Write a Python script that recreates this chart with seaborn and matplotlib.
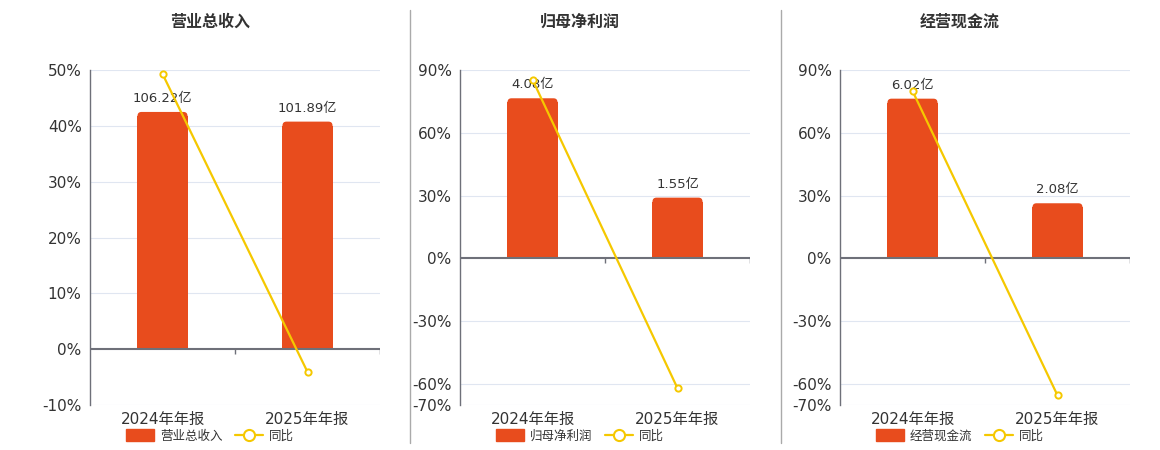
import numpy as np
import pandas as pd
import seaborn as sns
import matplotlib.pyplot as plt
from matplotlib.lines import Line2D
from matplotlib.patches import Patch, FancyBboxPatch

# data
periods = ["2024年年报", "2025年年报"]

titles = ["营业总收入", "归母净利润", "经营现金流"]
values = [
    [106.22, 101.89],   # 营业总收入 (亿)
    [4.08, 1.55],       # 归母净利润 (亿)
    [6.02, 2.08],       # 经营现金流 (亿)
]
yoy = [
    [49.3, -4.08],
    [85.4, -62.0],
    [80.0, -65.4],
]

# axis settings per panel: % range, % ticks, hidden bar-axis range
pct_lims = [(-10, 50), (-70, 90), (-70, 90)]
pct_ticks = [list(range(-10, 51, 10)), [-70, -60, -30, 0, 30, 60, 90], [-70, -60, -30, 0, 30, 60, 90]]
bar_lims = [(-25, 125), (-3.73, 4.8), (-5.52, 7.1)]

BAR = "#E84C1D"
LINE = "#F5C800"
AXC = "#6E7079"
GRID = "#E0E6F1"
TXT = "#333333"

sns.set_theme(style="white")
plt.rcParams["font.family"] = ["DejaVu Sans", "Noto Sans CJK SC"]

fig = plt.figure(figsize=(11.6, 4.5), dpi=100)
lefts = [90, 460, 840]

for i in range(3):
    left = lefts[i] / 1160
    ax = fig.add_axes([left, 45 / 450, 290 / 1160, 335 / 450])
    lo, hi = pct_lims[i]
    df = pd.DataFrame({"period": periods, "value": values[i], "yoy": yoy[i]})

    # percent axis with grid (bottom layer)
    ax.set_xlim(-0.5, 1.5)
    ax.set_ylim(lo, hi)
    ax.set_yticks(pct_ticks[i])
    ax.set_yticklabels([f"{t}%" for t in pct_ticks[i]], fontsize=11, color=TXT)
    ax.set_xticks([0, 1])
    ax.set_xticklabels(periods, fontsize=11, color=TXT)
    ax.tick_params(axis="y", length=0, pad=6)
    ax.tick_params(axis="x", length=0, pad=5)
    for t in pct_ticks[i]:
        if t != 0:
            ax.axhline(t, color=GRID, lw=0.8, zorder=0)
    for s in ["top", "right", "bottom"]:
        ax.spines[s].set_visible(False)
    ax.spines["left"].set_color(AXC)
    ax.spines["left"].set_linewidth(1)
    ax.grid(False)

    # bars on a hidden twin axis, tops rounded
    ax2 = ax.twinx()
    sns.barplot(data=df, x="period", y="value", ax=ax2, color=BAR, width=0.345,
                saturation=1, linewidth=0)
    ax2.set_xlim(-0.5, 1.5)
    b_lo, b_hi = bar_lims[i]
    ax2.set_ylim(b_lo, b_hi)
    rx = 4 / 145
    ry = 4 * (b_hi - b_lo) / 335
    for p in list(ax2.patches):
        x, y, w, h = p.get_x(), p.get_y(), p.get_width(), p.get_height()
        ax2.add_patch(FancyBboxPatch((x, y), w, h, boxstyle=f"round,pad=0,rounding_size={rx}",
                                     mutation_aspect=ry / rx, facecolor=BAR, edgecolor="none"))
        p.set_height(h - ry)
    ax2.bar_label(ax2.containers[0], labels=[f"{v:.2f}亿" for v in values[i]],
                  padding=4 + 4, fontsize=9.5, color=TXT)
    ax2.axis("off")
    ax2.patch.set_visible(False)

    # zero axis line and boundary ticks, line series on top
    ax3 = ax.twinx()
    ax3.set_ylim(lo, hi)
    ax3.set_xlim(-0.5, 1.5)
    ax3.axis("off")
    ax3.axhline(0, color=AXC, lw=1.5, zorder=1)
    tk = (hi - lo) * 5 / 335
    ax3.vlines([0.5, 1.5], -tk, 0, color=AXC, lw=1)
    sns.lineplot(x=np.arange(len(periods)), y=df["yoy"], ax=ax3, color=LINE, lw=1.6,
                 marker="o", markersize=4.5, markerfacecolor="white",
                 markeredgecolor=LINE, markeredgewidth=1.4, zorder=3)
    ax3.set_ylim(lo, hi)
    ax3.set_xlim(-0.5, 1.5)

    cx = left + 120 / 1160
    fig.text(cx, 1 - 22 / 450, titles[i], ha="center", va="center",
             fontsize=11.5, fontweight="bold", color=TXT)

    handles = [Patch(facecolor=BAR, edgecolor=BAR),
               Line2D([0], [0], color=LINE, lw=1.6, marker="o", markersize=8,
                      markerfacecolor="white", markeredgecolor=LINE, markeredgewidth=1.5)]
    fig.legend(handles, [titles[i], "同比"], loc="center",
               bbox_to_anchor=(cx, 14 / 450), ncol=2, frameon=False,
               fontsize=9, handlelength=2.2, handleheight=1.1, columnspacing=1.0,
               handletextpad=0.5, labelcolor=TXT)

# separators between panels
for x in [410, 781]:
    fig.add_artist(Line2D([x / 1160, x / 1160], [7 / 450, 440 / 450], color="#AAAAAA", lw=1))

fig.savefig("out.png", dpi=100)
